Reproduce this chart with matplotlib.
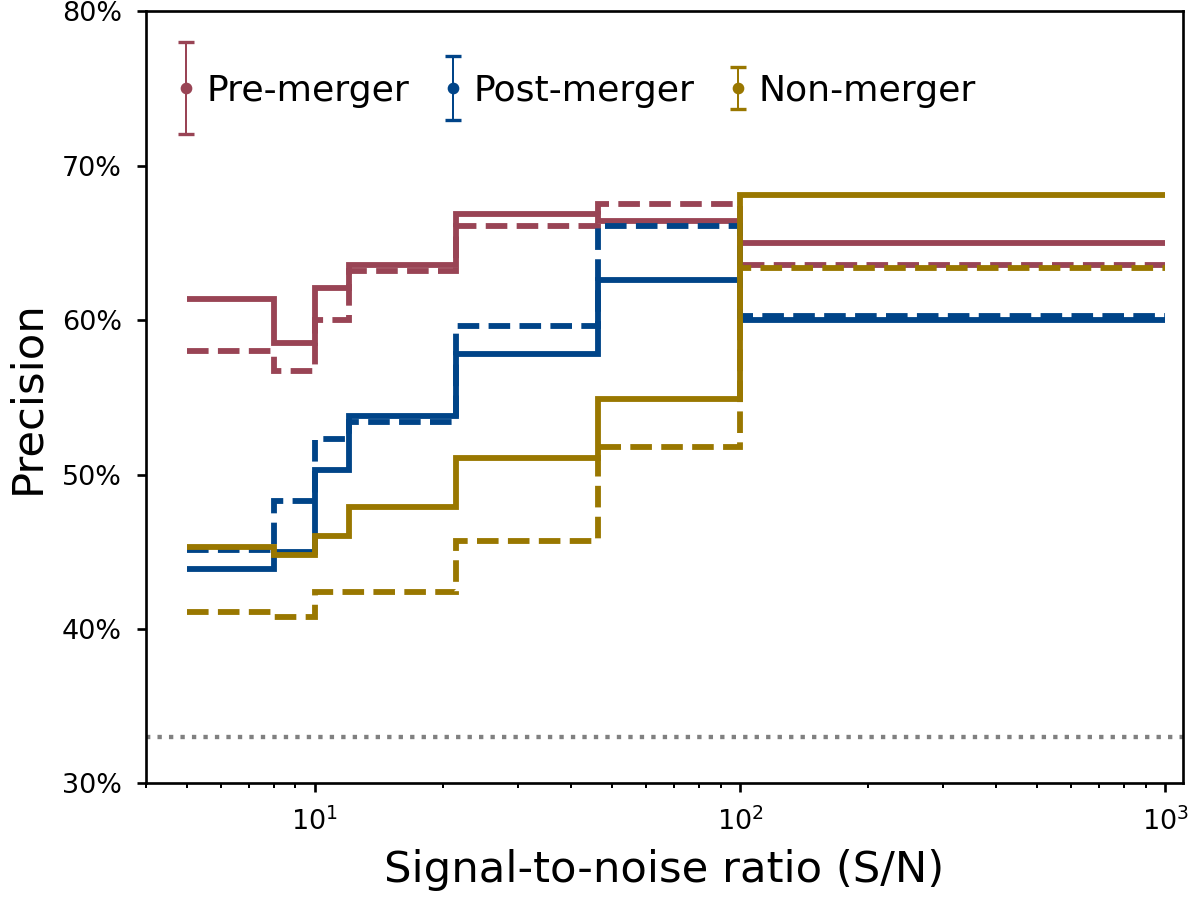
import numpy as np
import matplotlib
matplotlib.use("Agg")
import matplotlib.pyplot as plt
from matplotlib.ticker import PercentFormatter
from matplotlib.legend_handler import HandlerErrorbar

# ---------------------------------------------------------------------------
# Data: precision per S/N bin (in %)
# ---------------------------------------------------------------------------
snr_edges = [5, 8, 10, 12, 21.5, 46.4, 100, 1000]

pre_solid = [61.4, 58.5, 62.1, 63.6, 66.9, 66.4, 65.0]
pre_dashed = [58.0, 56.7, 60.0, 63.2, 66.1, 67.5, 63.6]
post_solid = [43.9, 45.0, 50.3, 53.8, 57.8, 62.6, 60.0]
post_dashed = [45.1, 48.3, 52.3, 53.4, 59.6, 66.1, 60.3]
non_solid = [45.3, 44.8, 46.0, 47.9, 51.1, 54.9, 68.1]
non_dashed = [41.1, 40.8, 42.4, 42.4, 45.7, 51.8, 63.4]

chance_level = 33.0

class_names = ["Pre-merger", "Post-merger", "Non-merger"]
class_colors = ["#994455", "#004488", "#997700"]
legend_err = [1.27, 0.89, 0.57]  # legend error-bar half height (x fontsize)

solid = [pre_solid, post_solid, non_solid]
dashed = [pre_dashed, post_dashed, non_dashed]

# ---------------------------------------------------------------------------
# Figure
# ---------------------------------------------------------------------------
fig = plt.figure(figsize=(5, 902 / 240), dpi=240)
ax = fig.add_axes([0.1214, 0.1316, 0.8644, 0.8557])

for vals_s, vals_d, color in zip(solid, dashed, class_colors):
    ax.stairs(vals_s, snr_edges, baseline=None, color=color, lw=1.75)
    ax.stairs(vals_d, snr_edges, baseline=None, color=color, lw=1.75, ls="--")

ax.axhline(chance_level, color="gray", ls=":", lw=1.3)

ax.set_xscale("log")
ax.set_xlim(4, 1100)
ax.set_ylim(30, 80)
ax.set_yticks([30, 40, 50, 60, 70, 80])
ax.yaxis.set_major_formatter(PercentFormatter(xmax=100, decimals=0))
ax.tick_params(which="major", labelsize=8.1, length=2.8, pad=4.4)
ax.tick_params(which="minor", length=1.6)

ax.set_xlabel("Signal-to-noise ratio (S/N)", fontsize=13)
ax.set_ylabel("Precision", fontsize=13)

# Legend with error-bar handles
handles = []
hmap = {}
for name, color, esize in zip(class_names, class_colors, legend_err):
    h = ax.errorbar([np.nan], [np.nan], yerr=[np.nan], fmt="o", color=color,
                    markersize=2.5, elinewidth=0.6, capsize=2.3, label=name)
    handles.append(h)
    hmap[h] = HandlerErrorbar(yerr_size=esize)

ax.legend(handles=handles, handler_map=hmap, loc="upper left",
          bbox_to_anchor=(0.0175, 0.938), borderaxespad=0, ncol=3,
          frameon=False, fontsize=10.9, handlelength=0.41,
          handletextpad=0.37, columnspacing=0.98)

fig.savefig("out.png", dpi=240)
plt.close()
